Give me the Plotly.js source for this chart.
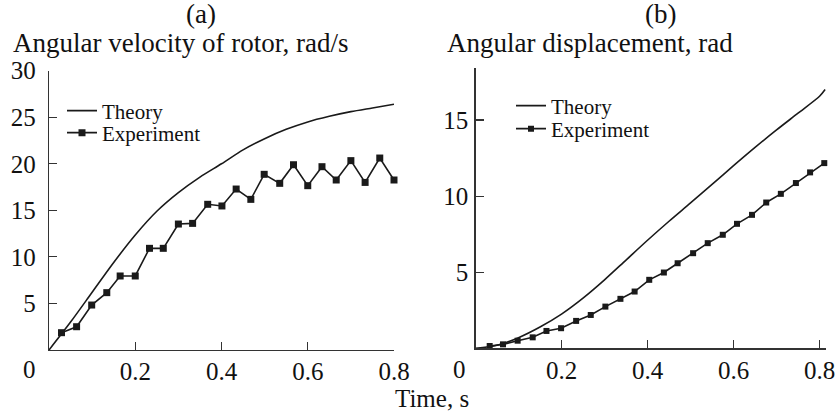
<!DOCTYPE html>
<html>
<head>
<meta charset="utf-8">
<script src="https://cdn.plot.ly/plotly-3.0.1.min.js"></script>
<style>html,body{margin:0;padding:0;background:#fff;}#chart{width:838px;height:411px;}</style>
</head>
<body>
<div id="chart"></div>
<script>
// Panel (a): angular velocity of rotor, rad/s
const velTheoryT = [0, 0.05, 0.1, 0.15, 0.2, 0.25, 0.3, 0.35, 0.4, 0.45, 0.5, 0.55, 0.6, 0.65, 0.7, 0.75, 0.8];
const velTheory  = [0, 3.0, 6.2, 9.4, 12.35, 14.9, 16.9, 18.57, 20.0, 21.5, 22.7, 23.7, 24.5, 25.1, 25.6, 26.0, 26.4];
const velExpT = [0.029, 0.064, 0.099, 0.134, 0.165, 0.200, 0.233, 0.265, 0.300, 0.333, 0.368, 0.401,
                 0.434, 0.468, 0.499, 0.535, 0.567, 0.600, 0.633, 0.666, 0.700, 0.733, 0.767, 0.800];
const velExp  = [1.86, 2.5, 4.83, 6.16, 7.95, 7.95, 10.92, 10.92, 13.53, 13.6, 15.65, 15.47,
                 17.29, 16.18, 18.87, 17.9, 19.9, 17.65, 19.69, 18.26, 20.34, 18.0, 20.62, 18.26];

// Panel (b): angular displacement, rad
const dispTheoryT = [0, 0.05, 0.1, 0.15, 0.2, 0.25, 0.3, 0.35, 0.4, 0.45, 0.5, 0.55, 0.6, 0.65, 0.7, 0.75, 0.8, 0.813];
const dispTheory  = [0, 0.2, 0.7, 1.4, 2.25, 3.3, 4.5, 5.8, 7.1, 8.35, 9.55, 10.77, 12.0, 13.2, 14.35, 15.45, 16.56, 17.0];
const dispExpT = [0.033, 0.064, 0.098, 0.133, 0.165, 0.199, 0.234, 0.268, 0.302, 0.337, 0.370, 0.404,
                  0.438, 0.470, 0.506, 0.540, 0.575, 0.608, 0.643, 0.676, 0.710, 0.745, 0.778, 0.811];
const dispExp  = [0.15, 0.26, 0.5, 0.72, 1.14, 1.32, 1.8, 2.19, 2.74, 3.25, 3.73, 4.5,
                  4.98, 5.59, 6.25, 6.91, 7.46, 8.18, 8.77, 9.58, 10.15, 10.86, 11.56, 12.17];

const xTicks = [0.2, 0.4, 0.6, 0.8];
const xTickText = ['0.2', '0.4', '0.6', '0.8'];
const velTicks = [5, 10, 15, 20, 25, 30];
const dispTicks = [5, 10, 15];

const W = 838, H = 411;
const px = v => v / W;
const py = v => 1 - v / H;
const FONT = 'Liberation Serif';
const INK = '#1a1a1a';

const lineStyle = {color: INK, width: 1.6};
const smoothStyle = {color: INK, width: 1.6, shape: 'spline', smoothing: 0.8};
const traces = [
  {x: velTheoryT, y: velTheory, mode: 'lines', name: 'Theory', line: smoothStyle,
   xaxis: 'x', yaxis: 'y', legend: 'legend'},
  {x: velExpT, y: velExp, mode: 'lines+markers', name: 'Experiment', line: lineStyle,
   marker: {symbol: 'square', size: 7, color: INK}, xaxis: 'x', yaxis: 'y', legend: 'legend2', cliponaxis: false},
  {x: dispTheoryT, y: dispTheory, mode: 'lines', name: 'Theory', line: smoothStyle,
   xaxis: 'x2', yaxis: 'y2', legend: 'legend3'},
  {x: dispExpT, y: dispExp, mode: 'lines+markers', name: 'Experiment', line: lineStyle,
   marker: {symbol: 'square', size: 6, color: INK}, xaxis: 'x2', yaxis: 'y2', legend: 'legend4', cliponaxis: false}
];

const axisCommon = {
  showgrid: false, zeroline: false, showline: true, linecolor: '#333', linewidth: 1.2,
  ticks: 'inside', ticklen: 8, tickwidth: 1.2, tickcolor: '#333',
  tickfont: {family: FONT, size: 25, color: '#111'}, automargin: false, fixedrange: true
};

const legendCommon = {
  font: {family: FONT, size: 21, color: '#111'}, bgcolor: 'rgba(0,0,0,0)',
  xref: 'paper', yref: 'paper', xanchor: 'left', yanchor: 'middle', itemclick: false
};

const ann = (text, x, y, xanchor, size) => ({
  text: text, x: px(x), y: py(y), xref: 'paper', yref: 'paper', showarrow: false,
  xanchor: xanchor, yanchor: 'middle', font: {family: FONT, size: size, color: '#111'}
});

const layout = {
  width: W, height: H,
  margin: {l: 0, r: 0, t: 0, b: 0},
  paper_bgcolor: '#fff', plot_bgcolor: '#fff',
  font: {family: FONT},
  showlegend: true,
  xaxis: Object.assign({}, axisCommon, {domain: [px(49), px(394)], range: [0, 0.8],
    tickvals: xTicks, ticktext: xTickText, anchor: 'y', ticklabelstandoff: -1}),
  yaxis: Object.assign({}, axisCommon, {domain: [py(350), py(70.7)], range: [0, 30],
    tickvals: velTicks, anchor: 'x', ticklabelstandoff: 7}),
  xaxis2: Object.assign({}, axisCommon, {domain: [px(475.5), px(826)], range: [0, 0.815],
    tickvals: xTicks, ticktext: xTickText, anchor: 'y2', ticklabelstandoff: -1}),
  yaxis2: Object.assign({}, axisCommon, {domain: [py(348.3), py(68.3)], range: [0, 18.4],
    tickvals: dispTicks, anchor: 'x2', ticklabelstandoff: 1}),
  legend: Object.assign({}, legendCommon, {x: px(62), y: py(111)}),
  legend2: Object.assign({}, legendCommon, {x: px(62), y: py(133)}),
  legend3: Object.assign({}, legendCommon, {x: px(511), y: py(106)}),
  legend4: Object.assign({}, legendCommon, {x: px(511), y: py(129)}),
  annotations: [
    ann('(a)', 201, 14, 'center', 27),
    ann('Angular velocity of rotor, rad/s', 11, 43, 'left', 27),
    ann('(b)', 660, 14, 'center', 27),
    ann('Angular displacement, rad', 445, 43, 'left', 27),
    ann('Time, s', 432, 398, 'center', 25),
    ann('0', 38, 369, 'right', 25),
    ann('0', 468, 369, 'right', 25)
  ]
};

Plotly.newPlot('chart', traces, layout, {staticPlot: true, displayModeBar: false});
</script>
</body>
</html>
